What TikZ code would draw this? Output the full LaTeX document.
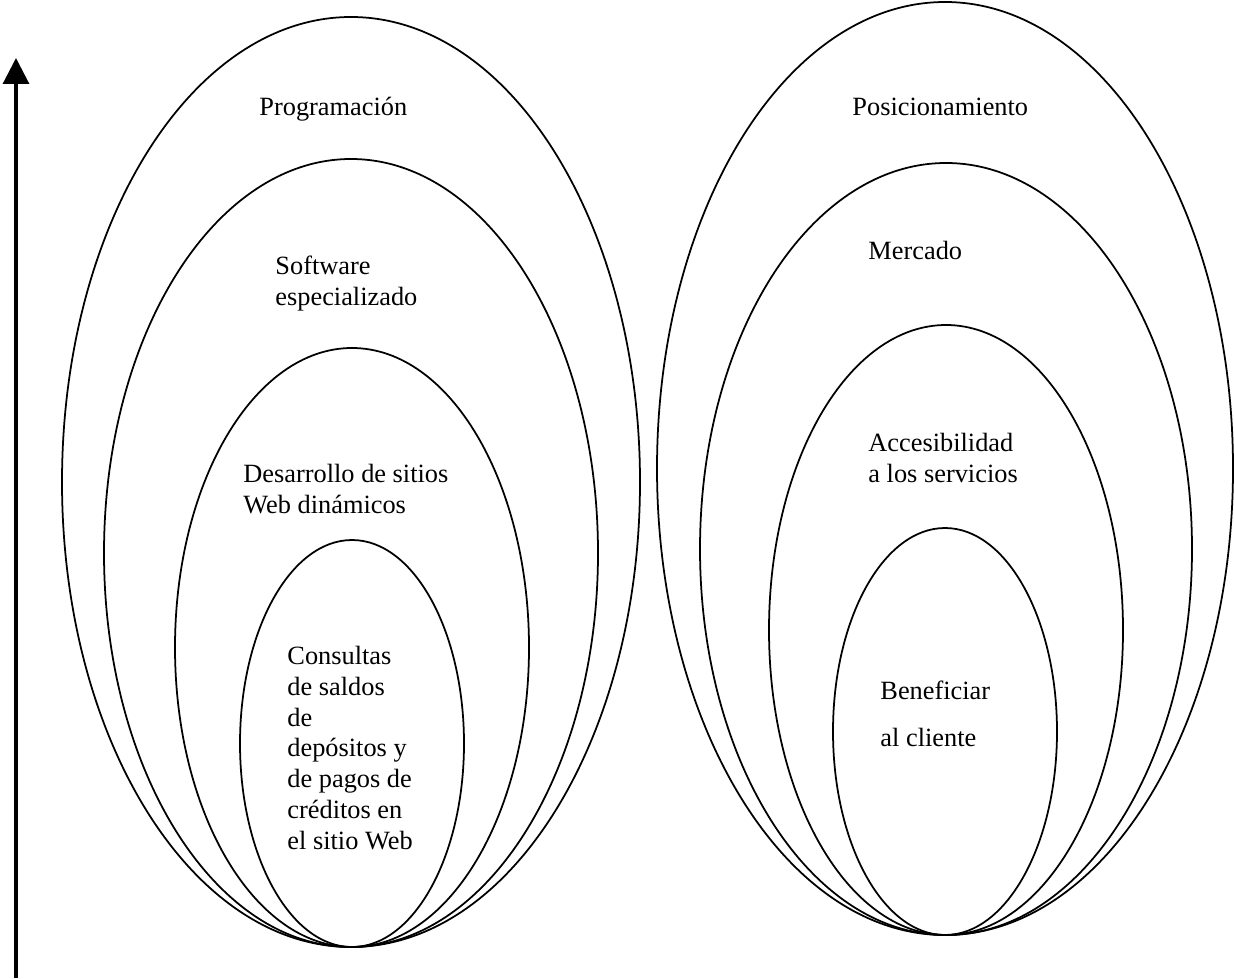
\documentclass[tikz,border=0pt]{standalone}
\usepackage{fontspec}
\setmainfont{Liberation Serif}
\usetikzlibrary{arrows.meta}
\tikzset{
  ring/.style={line width=0.8pt},
  ringtext/.style={anchor=base west, inner sep=0pt, align=left,
    font=\fontsize{12}{13.8}\selectfont}
}
\begin{document}
\begin{tikzpicture}[x=0.016cm, y=-0.016cm]
  \useasboundingbox (0,0) rectangle (1234,978);

  % eje vertical
  \coordinate (ejeabajo) at (16,978);
  \coordinate (ejearriba) at (16,58);
  \draw[line width=1.4pt, -{Triangle[length=11.8pt,width=11.8pt]}] (ejeabajo) -- (ejearriba);

  % elipses de la izquierda
  \draw[ring] (351,482) ellipse [x radius=289, y radius=465];
  \draw[ring] (351,553) ellipse [x radius=247, y radius=394];
  \draw[ring] (352,647.5) ellipse [x radius=177, y radius=299.5];
  \draw[ring] (352,743.5) ellipse [x radius=112, y radius=203.5];

  % (la base de un texto de varias lineas es su ultima linea)
  \node[ringtext] (prog) at (259,115) {Programación};
  \node[ringtext] (soft) at (275,305) {Software\\especializado};
  \node[ringtext] (desa) at (243,513) {Desarrollo de sitios\\Web dinámicos};
  \node[ringtext, font=\fontsize{12}{14}\selectfont] (cons) at (287,849)
    {Consultas\\de saldos\\de\\depósitos y\\de pagos de\\créditos en\\el sitio Web};

  % elipses de la derecha
  \draw[ring] (945,468.5) ellipse [x radius=288, y radius=466.5];
  \draw[ring] (946,549) ellipse [x radius=246, y radius=386];
  \draw[ring] (946,630) ellipse [x radius=177, y radius=305];
  \draw[ring] (945,731.5) ellipse [x radius=112, y radius=203.5];

  \node[ringtext] (posi) at (852,116) {Posicionamiento};
  \node[ringtext] (merc) at (868,259) {Mercado};
  \node[ringtext] (acce) at (868,482) {Accesibilidad\\a los servicios};
  \node[ringtext, font=\fontsize{12}{21}\selectfont] (bene) at (880,746)
    {Beneficiar\\al cliente};
\end{tikzpicture}
\end{document}
